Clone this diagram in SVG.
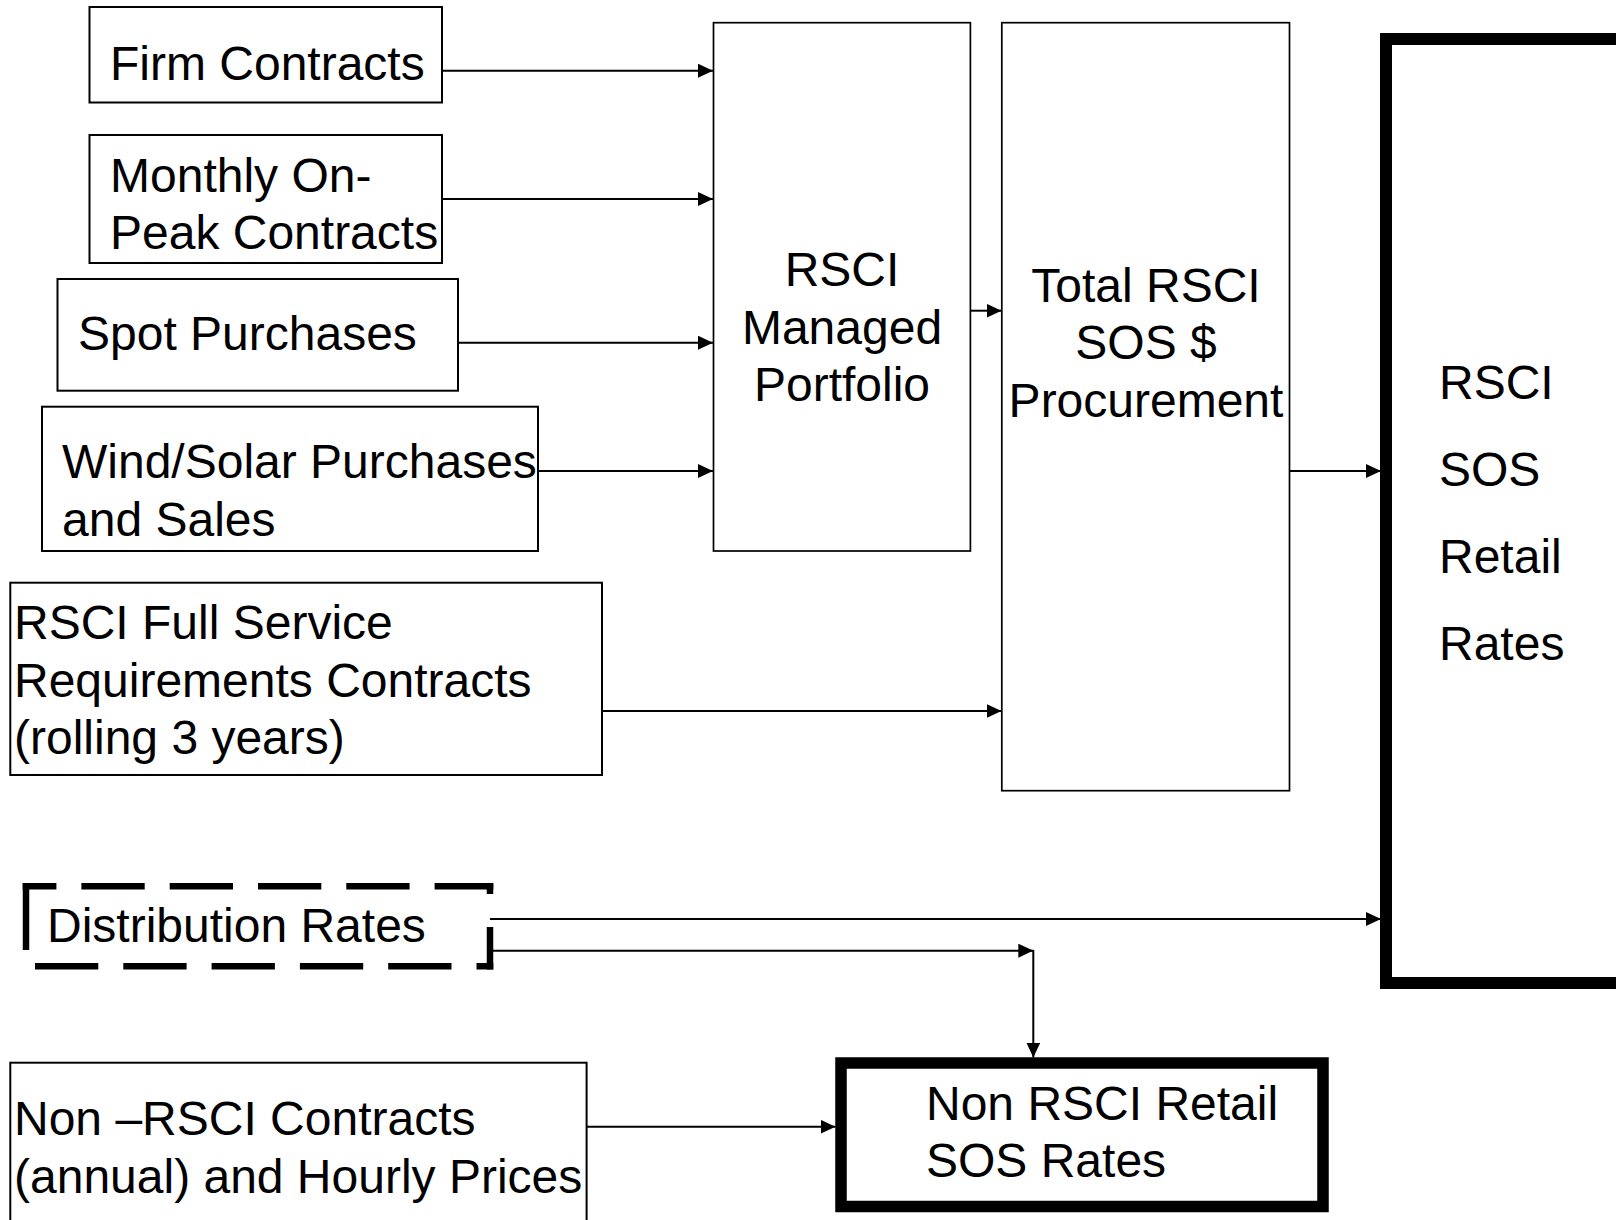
<svg xmlns="http://www.w3.org/2000/svg" width="1616" height="1220" viewBox="0 0 1616 1220">
<style>
  .box { fill: #fff; stroke: #000; stroke-width: 2; }
  .tall { fill: #fff; stroke: #000; stroke-width: 1.7; }
  .thick { fill: #fff; stroke: #000; stroke-width: 12; }
  .dash { fill: none; stroke: #000; stroke-width: 6.5; }
  .lbl { font-family: "Liberation Sans", Arial, sans-serif; font-size: 48px; fill: #000; }
  .mid { text-anchor: middle; }
  .conn line { stroke: #000; stroke-width: 2; fill: none; marker-end: url(#ah); }
</style>
<defs>
  <marker id="ah" markerUnits="userSpaceOnUse" markerWidth="15" markerHeight="14" refX="15" refY="7" orient="auto">
    <path d="M0,0 L15,7 L0,14 z" fill="#000"/>
  </marker>
</defs>
<rect width="1616" height="1220" fill="#fff"/>

<g id="firm">
  <rect class="box" x="89.5" y="7" width="352.5" height="95.5"/>
  <text class="lbl" x="110" y="80">Firm Contracts</text>
</g>
<g id="monthly">
  <rect class="box" x="89.5" y="135" width="352.5" height="128"/>
  <text class="lbl" x="110" y="191.5">Monthly On-</text>
  <text class="lbl" x="110" y="249">Peak Contracts</text>
</g>
<g id="spot">
  <rect class="box" x="57.5" y="279" width="400.5" height="111.7"/>
  <text class="lbl" x="78" y="350">Spot Purchases</text>
</g>
<g id="wind">
  <rect class="box" x="42" y="406.7" width="496" height="144.3"/>
  <text class="lbl" x="62" y="478">Wind/Solar Purchases</text>
  <text class="lbl" x="62" y="535.5">and Sales</text>
</g>
<g id="managed">
  <rect class="tall" x="713.5" y="22.7" width="256.9" height="528.3"/>
  <text class="lbl mid" x="842" y="286">RSCI</text>
  <text class="lbl mid" x="842" y="343.6">Managed</text>
  <text class="lbl mid" x="842" y="401.2">Portfolio</text>
</g>
<g id="total">
  <rect class="tall" x="1001.8" y="22.7" width="287.7" height="768"/>
  <text class="lbl mid" x="1146" y="301.7">Total RSCI</text>
  <text class="lbl mid" x="1146" y="359.3">SOS $</text>
  <text class="lbl mid" x="1146" y="417">Procurement</text>
</g>
<g id="rsci-sos">
  <rect class="thick" x="1386" y="39" width="260" height="944"/>
  <text class="lbl" x="1439" y="399">RSCI</text>
  <text class="lbl" x="1439" y="486">SOS</text>
  <text class="lbl" x="1439" y="573">Retail</text>
  <text class="lbl" x="1439" y="659.5">Rates</text>
</g>
<g id="full-service">
  <rect class="box" x="10.3" y="582.7" width="591.7" height="192.3"/>
  <text class="lbl" x="14" y="639">RSCI Full Service</text>
  <text class="lbl" x="14" y="696.6">Requirements Contracts</text>
  <text class="lbl" x="14" y="754.2">(rolling 3 years)</text>
</g>
<g id="distribution">
  <rect x="26" y="886.3" width="464" height="80" fill="#fff" stroke="none"/>
  <line class="dash" x1="22.7" y1="886.3" x2="493.3" y2="886.3" stroke-dasharray="63.3 25" stroke-dashoffset="29.6"/>
  <line class="dash" x1="35" y1="966.3" x2="493.3" y2="966.3" stroke-dasharray="63.3 25"/>
  <line class="dash" x1="26" y1="883" x2="26" y2="950"/>
  <line class="dash" x1="490" y1="883" x2="490" y2="969.6" stroke-dasharray="11 33 60"/>
  <text class="lbl" x="47" y="942">Distribution Rates</text>
</g>
<g id="non-rsci-contracts">
  <rect class="box" x="10.3" y="1062.7" width="576.3" height="180"/>
  <text class="lbl" x="14" y="1135">Non –RSCI Contracts</text>
  <text class="lbl" x="14" y="1192.6">(annual) and Hourly Prices</text>
</g>
<g id="non-rsci-retail">
  <rect x="841" y="1063" width="482" height="143.5" fill="#fff" stroke="#000" stroke-width="11.5"/>
  <text class="lbl" x="926" y="1120">Non RSCI Retail</text>
  <text class="lbl" x="926" y="1177">SOS Rates</text>
</g>

<g id="connectors" class="conn">
  <line x1="442" y1="70.7" x2="713" y2="70.7"/>
  <line x1="442" y1="199" x2="713" y2="199"/>
  <line x1="458" y1="342.7" x2="713" y2="342.7"/>
  <line x1="538" y1="471" x2="713" y2="471"/>
  <line x1="970.4" y1="310.7" x2="1001.5" y2="310.7"/>
  <line x1="1289.5" y1="471" x2="1381" y2="471"/>
  <line x1="602" y1="711" x2="1001.5" y2="711"/>
  <line x1="490" y1="919" x2="1381" y2="919"/>
  <line x1="490" y1="950.7" x2="1033.3" y2="950.7"/>
  <line x1="1033.3" y1="950" x2="1033.3" y2="1057.5"/>
  <line x1="586.6" y1="1126.7" x2="835.5" y2="1126.7"/>
</g>
</svg>
